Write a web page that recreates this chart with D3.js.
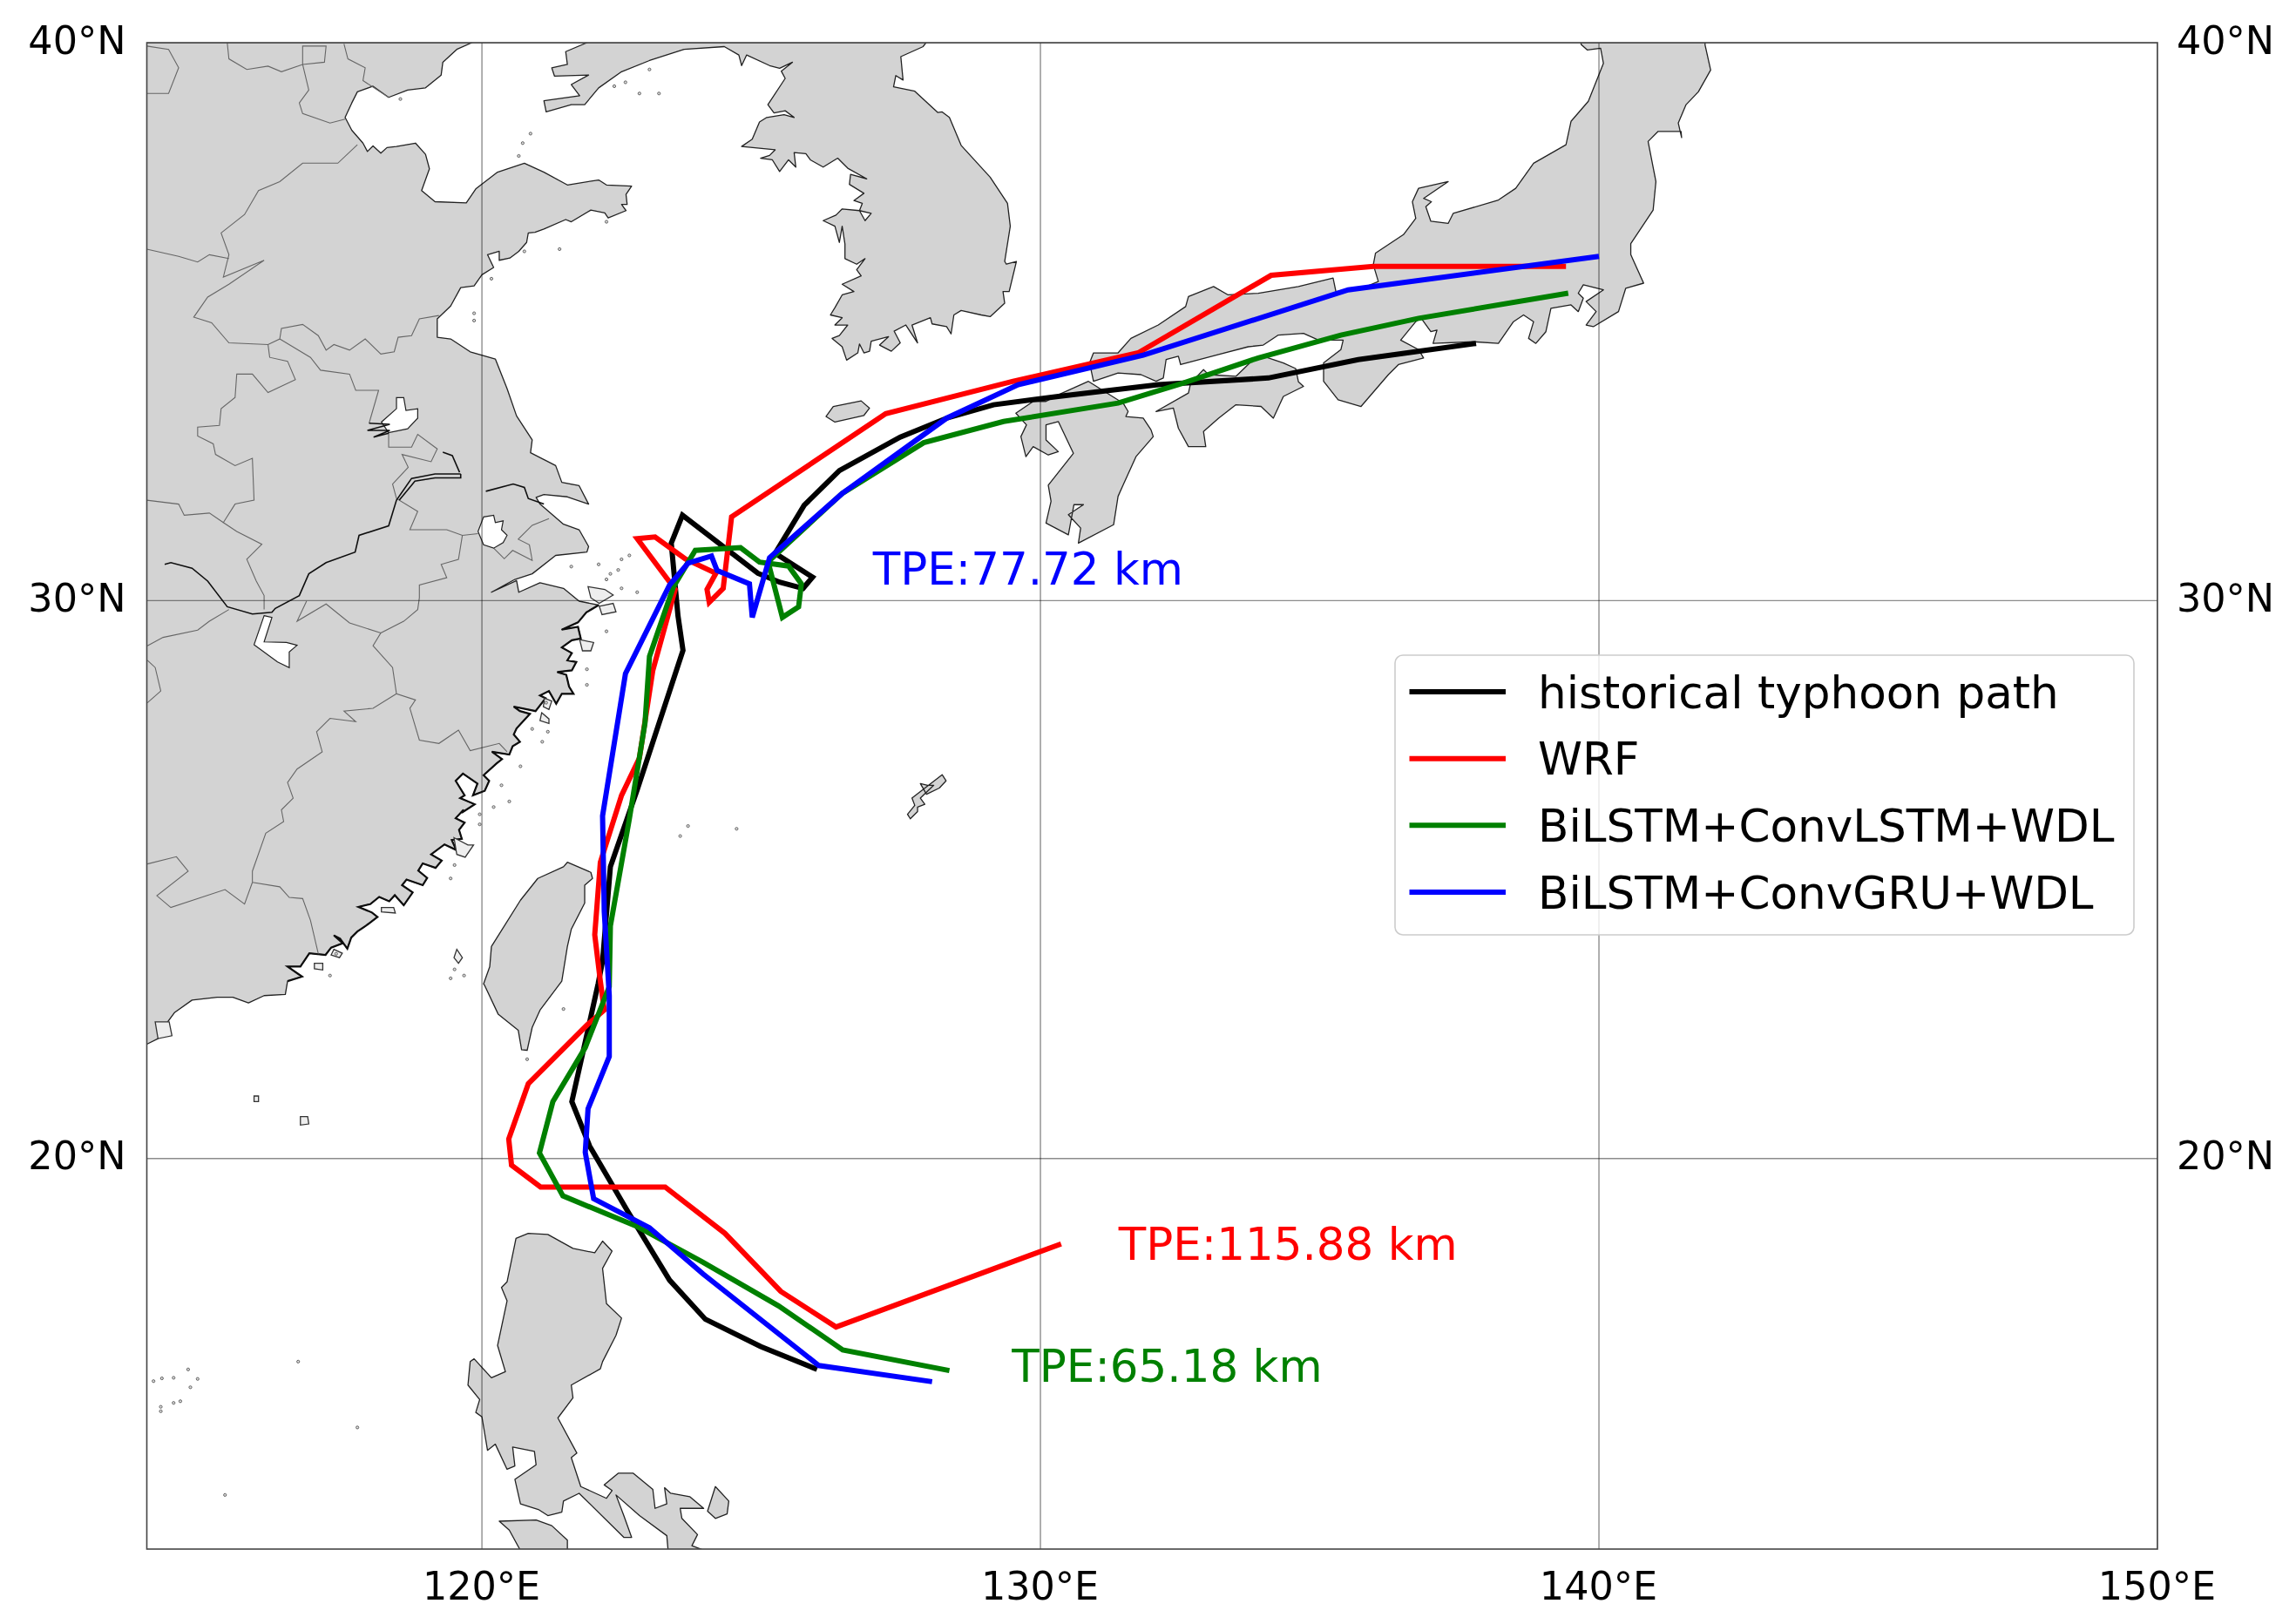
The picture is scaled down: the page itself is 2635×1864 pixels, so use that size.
<!DOCTYPE html>
<html>
<head>
<meta charset="utf-8">
<script src="https://cdn.jsdelivr.net/npm/d3@7"></script>
<style>
  html, body { margin: 0; padding: 0; background: #fff; }
  text { font-family: "DejaVu Sans", sans-serif; }
</style>
</head>
<body>
<svg id="chart"></svg>
<script>
// map window and ticks
const lonExtent = [114, 150];
const latExtent = [13, 40];
const lonTicks = [120, 130, 140, 150];
const latTicks = [20, 30, 40];

// typhoon tracks, [lon, lat]
const historicalPath = [[126.0,16.22],[124.99,16.63],[124.0,17.12],[123.36,17.82],[122.6,19.07],[121.93,20.22],[121.61,21.02],[121.85,22.09],[122.08,23.13],[122.16,23.54],[122.3,25.23],[122.78,26.61],[123.6,29.11],[123.51,29.73],[123.39,31.03],[123.59,31.53],[124.94,30.49],[125.33,30.33],[125.75,30.22],[125.92,30.42],[125.25,30.85],[125.77,31.71],[126.4,32.33],[127.49,32.93],[128.32,33.27],[129.16,33.51],[130.32,33.66],[132.11,33.87],[134.08,33.99],[135.69,34.32],[137.8,34.61]];
const wrfPath = [[130.37,18.47],[126.34,16.98],[125.35,17.62],[124.35,18.66],[123.28,19.49],[121.05,19.49],[120.53,19.88],[120.48,20.35],[120.83,21.34],[121.89,22.4],[122.19,22.66],[122.12,23.18],[122.02,24.01],[122.12,25.31],[122.5,26.51],[122.82,27.18],[123.06,28.75],[123.46,30.2],[122.78,31.11],[123.1,31.14],[123.64,30.75],[124.19,30.49],[124.03,30.2],[124.07,29.97],[124.32,30.22],[124.47,31.5],[127.23,33.35],[129.51,33.93],[131.75,34.44],[134.13,35.83],[135.96,35.99],[139.41,35.99]];
const convLstmPath = [[128.37,16.2],[126.46,16.57],[125.31,17.36],[123.96,18.14],[122.76,18.79],[121.45,19.33],[121.03,20.1],[121.27,21.02],[121.85,21.99],[122.28,23.08],[122.3,24.17],[122.64,26.09],[122.92,27.81],[123.0,29.0],[123.43,30.25],[123.82,30.9],[124.63,30.95],[124.97,30.69],[125.49,30.62],[125.72,30.3],[125.67,29.89],[125.38,29.7],[125.15,30.59],[125.15,30.72],[126.45,31.92],[127.91,32.83],[129.34,33.21],[131.39,33.54],[132.56,33.9],[133.9,34.35],[135.38,34.76],[136.77,35.06],[139.45,35.51]];
const convGruPath = [[128.06,16.0],[126.03,16.29],[123.96,17.93],[123.0,18.76],[122.0,19.28],[121.85,20.11],[121.9,20.89],[122.28,21.83],[122.28,22.92],[122.19,24.43],[122.16,26.14],[122.57,28.69],[123.36,30.28],[123.69,30.67],[124.11,30.8],[124.21,30.54],[124.79,30.3],[124.84,29.7],[125.15,30.77],[126.45,31.92],[128.32,33.27],[129.6,33.87],[131.84,34.4],[135.51,35.57],[140.0,36.17]];

const seriesNames = ["historical typhoon path", "WRF", "BiLSTM+ConvLSTM+WDL", "BiLSTM+ConvGRU+WDL"];
const seriesColors = ["#000000", "#ff0000", "#008000", "#0000ff"];
const seriesPaths = [historicalPath, wrfPath, convLstmPath, convGruPath];

// TPE notes, anchored in map coordinates
const tpeLabels = ["TPE:77.72 km", "TPE:115.88 km", "TPE:65.18 km"];
const tpeColors = ["#0000ff", "#ff0000", "#008000"];
const tpeAnchors = [[127.0,30.58],[131.4,18.47],[129.49,16.28]];

// coastlines, traced by hand, [lon, lat]
const chinaNorthCoast = [[119.82,40.0],[119.55,39.88],[119.3,39.65],[119.27,39.42],[118.99,39.19],[118.67,39.15],[118.33,39.02],[118.05,39.22],[117.77,39.12],[117.67,38.92],[117.55,38.66],[117.67,38.43],[117.87,38.2],[117.95,38.05],[118.05,38.15],[118.19,38.02],[118.3,38.12],[118.47,38.14],[118.81,38.2],[118.99,38.0],[119.06,37.74],[118.92,37.35],[119.16,37.15],[119.72,37.13],[119.89,37.38],[120.28,37.68],[120.76,37.84],[121.11,37.68],[121.53,37.45],[122.09,37.54],[122.23,37.45],[122.68,37.43],[122.58,37.28],[122.6,37.1],[122.5,37.1],[122.58,36.99],[122.26,36.86],[122.2,36.95],[121.95,37.0],[121.6,36.79],[121.5,36.83],[121.11,36.66],[120.95,36.6],[120.83,36.59],[120.8,36.42],[120.66,36.26],[120.5,36.14],[120.31,36.1],[120.31,36.26],[120.1,36.2],[120.21,35.97],[120.0,35.84],[119.86,35.64],[119.62,35.61],[119.44,35.28],[119.2,35.05],[119.2,34.72],[119.44,34.69],[119.79,34.46],[120.24,34.33],[120.45,33.8],[120.62,33.31],[120.9,32.88],[120.87,32.65],[121.32,32.42],[121.43,32.12],[121.74,32.06],[121.91,31.73],[121.53,31.86],[121.11,31.9],[120.97,31.85],[121.04,31.73],[121.46,31.37],[121.74,31.27],[121.91,30.97],[121.88,30.87],[121.32,30.81],[120.9,30.48],[120.59,30.38],[120.17,30.15],[120.62,30.36],[120.66,30.15],[121.04,30.32],[121.46,30.22],[121.74,29.99]];
const chinaEastCoast = [[122.09,29.92],[121.87,29.79],[121.72,29.61],[121.43,29.48],[121.72,29.53],[121.77,29.32],[121.61,29.29],[121.43,29.16],[121.61,29.06],[121.53,28.93],[121.69,28.9],[121.61,28.75],[121.35,28.72],[121.51,28.67],[121.56,28.46],[121.64,28.33],[121.43,28.33],[121.33,28.15],[121.2,28.38],[121.04,28.3],[121.14,28.25],[120.96,28.02],[120.57,28.1],[120.68,28.02],[120.86,27.97],[120.62,27.71],[120.57,27.6],[120.68,27.47],[120.55,27.39],[120.49,27.24],[120.18,27.29],[120.36,27.16],[120.26,27.08],[120.03,26.87],[120.13,26.77],[120.05,26.59],[119.84,26.51],[119.92,26.72],[119.66,26.9],[119.53,26.77],[119.69,26.51],[119.61,26.46],[119.87,26.35],[119.64,26.2],[119.67,26.25],[119.53,26.1],[119.69,26.02],[119.59,25.89],[119.64,25.73],[119.46,25.71],[119.54,25.53],[119.33,25.63],[119.09,25.45],[119.28,25.34],[119.17,25.21],[118.94,25.29],[118.86,25.16],[119.02,25.03],[118.94,24.9],[118.65,25.0],[118.57,24.9],[118.76,24.77],[118.6,24.54],[118.44,24.72],[118.34,24.61],[118.16,24.69],[118.0,24.56],[117.79,24.51],[118.03,24.41],[118.13,24.33],[117.92,24.17],[117.77,24.07],[117.66,23.96],[117.59,23.76],[117.46,23.94],[117.35,24.0],[117.51,23.86],[117.3,23.78],[117.2,23.65],[116.91,23.68],[116.75,23.44],[116.52,23.44],[116.78,23.26],[116.52,23.18]];
const chinaSouthCoast = [[116.48,22.94],[116.1,22.92],[115.82,22.79],[115.54,22.89],[115.26,22.89],[114.81,22.84],[114.5,22.62],[114.3,22.35],[114.2,22.15],[114.0,22.05],[113,22.05],[113,41],[119.82,41]];
const koreaCoast = [[121.88,40.0],[121.5,39.84],[121.53,39.61],[121.25,39.55],[121.3,39.4],[121.91,39.42],[121.6,39.25],[121.75,39.05],[121.11,38.96],[121.15,38.76],[121.6,38.89],[121.84,38.89],[122.09,39.19],[122.5,39.48],[123.0,39.68],[123.62,39.88],[124.34,39.93],[124.6,39.78],[124.65,39.59],[124.74,39.78],[125.15,39.59],[125.33,39.54],[125.56,39.65],[125.36,39.49],[125.43,39.36],[125.12,38.89],[125.23,38.74],[125.43,38.78],[125.59,38.66],[125.41,38.71],[125.1,38.66],[124.97,38.58],[124.84,38.27],[124.65,38.14],[125.25,38.08],[125.15,37.98],[124.99,37.93],[125.2,37.9],[125.33,37.69],[125.49,37.9],[125.62,37.77],[125.59,38.03],[125.8,38.01],[125.88,37.9],[126.11,37.77],[126.37,37.93],[126.55,37.75],[126.89,37.56],[126.6,37.64],[126.58,37.46],[126.84,37.3],[126.66,37.17],[126.81,37.12],[126.76,36.99],[126.97,36.94],[126.86,36.81],[126.76,36.99],[126.45,37.02],[126.34,36.91],[126.11,36.81],[126.32,36.71],[126.4,36.42],[126.45,36.71],[126.5,36.39],[126.5,36.13],[126.71,36.03],[126.86,36.13],[126.71,35.93],[126.79,35.82],[126.45,35.67],[126.66,35.54],[126.45,35.48],[126.32,35.25],[126.24,35.12],[126.45,35.07],[126.32,34.94],[126.55,34.94],[126.4,34.75],[126.27,34.7],[126.45,34.55],[126.53,34.31],[126.73,34.44],[126.76,34.6],[126.84,34.44],[126.94,34.47],[126.97,34.65],[127.28,34.73],[127.12,34.58],[127.33,34.47],[127.49,34.62],[127.38,34.83],[127.59,34.94],[127.8,34.62],[127.7,34.94],[128.03,35.07],[128.06,34.96],[128.32,34.91],[128.4,34.78],[128.45,35.12],[128.58,35.2],[128.94,35.12],[129.1,35.09],[129.36,35.33],[129.33,35.54],[129.44,35.54],[129.57,36.08],[129.39,36.03],[129.36,36.08],[129.46,36.71],[129.41,37.12],[129.1,37.59],[128.58,38.16],[128.37,38.66],[128.24,38.76],[128.16,38.75],[127.75,39.13],[127.37,39.21],[127.41,39.41],[127.54,39.33],[127.5,39.75],[127.9,39.93],[127.95,40.0],[127.95,41],[121.88,41]];
const jejuCoast = [[126.16,33.3],[126.29,33.48],[126.79,33.58],[126.94,33.45],[126.84,33.32],[126.32,33.2]];
const honshuCoast = [[139.68,39.97],[139.79,39.87],[140.03,39.9],[140.08,39.63],[139.81,38.95],[139.5,38.59],[139.41,38.17],[138.83,37.84],[138.51,37.39],[138.2,37.18],[137.39,36.94],[137.3,36.76],[136.99,36.8],[136.9,37.06],[137.0,37.15],[136.86,37.21],[137.3,37.51],[136.77,37.39],[136.66,37.15],[136.72,36.85],[136.5,36.56],[136.0,36.23],[135.96,36.02],[136.05,35.72],[135.69,35.57],[135.29,35.54],[135.24,35.78],[134.62,35.63],[133.9,35.51],[133.36,35.48],[133.1,35.63],[132.65,35.45],[132.6,35.27],[132.11,34.94],[131.62,34.7],[131.39,34.44],[130.95,34.44],[130.88,34.26],[130.95,33.93],[131.39,34.08],[131.8,34.05],[132.07,33.93],[132.2,33.99],[132.25,34.32],[132.47,34.38],[132.51,34.23],[133.19,34.41],[133.72,34.55],[133.99,34.58],[134.26,34.76],[134.71,34.79],[134.98,34.67],[135.42,34.67],[135.38,34.5],[135.07,34.26],[135.07,33.93],[135.33,33.6],[135.74,33.48],[136.23,34.05],[136.41,34.23],[136.86,34.35],[136.77,34.5],[136.45,34.67],[136.72,35.0],[136.81,35.07],[136.99,34.82],[137.1,34.85],[137.03,34.61],[137.75,34.64],[138.2,34.61],[138.47,35.0],[138.65,35.12],[138.83,35.0],[138.74,34.7],[138.87,34.61],[139.05,34.82],[139.14,35.24],[139.5,35.3],[139.63,35.18],[139.72,35.42],[139.63,35.51],[139.72,35.66],[140.08,35.57],[139.77,35.36],[139.95,35.18],[139.77,34.94],[139.9,34.91],[140.35,35.18],[140.48,35.6],[140.8,35.69],[140.57,36.2],[140.57,36.4],[140.97,37.0],[141.02,37.51],[140.88,38.23],[141.06,38.41],[141.47,38.41],[141.48,38.3],[141.42,38.56],[141.56,38.89],[141.78,39.12],[142.0,39.51],[141.9,39.96],[141.9,41],[139.68,41]];
const kyushuCoast = [[129.56,33.36],[129.87,33.57],[130.1,33.57],[130.32,33.69],[130.86,33.93],[131.48,33.54],[131.57,33.39],[131.53,33.3],[131.84,33.27],[131.98,33.06],[132.02,32.94],[131.71,32.58],[131.48,32.07],[131.39,31.87],[131.31,31.36],[130.68,31.03],[130.72,31.3],[130.5,31.54],[130.77,31.72],[130.6,31.72],[130.5,31.18],[130.1,31.39],[130.19,31.78],[130.14,32.07],[130.59,32.64],[130.32,33.21],[130.1,33.15],[130.1,32.88],[130.32,32.67],[130.14,32.61],[129.87,32.76],[129.74,32.58],[129.65,32.94],[129.75,33.15]];
const shikokuCoast = [[132.07,33.39],[132.65,33.72],[132.69,33.9],[132.92,34.14],[133.01,34.05],[133.5,34.02],[133.81,34.32],[133.99,34.38],[134.35,34.26],[134.57,34.16],[134.62,33.92],[134.71,33.84],[134.35,33.66],[134.17,33.27],[133.95,33.48],[133.5,33.51],[133.19,33.27],[132.92,33.03],[132.96,32.76],[132.65,32.76],[132.47,33.09],[132.38,33.45]];
const okinawaCoast = [[128.24,26.88],[128.31,26.77],[128.19,26.64],[127.96,26.53],[127.85,26.72],[127.98,26.69],[128.09,26.69],[127.85,26.46],[127.93,26.35],[127.8,26.3],[127.8,26.22],[127.67,26.09],[127.62,26.17],[127.75,26.33],[127.7,26.46]];
const taiwanCoast = [[121.53,25.31],[121.95,25.13],[121.98,25.02],[121.84,24.9],[121.84,24.58],[121.6,24.11],[121.53,23.8],[121.43,23.18],[121.04,22.66],[120.9,22.35],[120.81,21.94],[120.71,21.95],[120.65,22.3],[120.29,22.59],[120.05,23.1],[120.03,23.13],[120.14,23.44],[120.17,23.8],[120.69,24.63],[121.0,25.02],[121.46,25.23]];
const luzonCoast = [[120.61,18.57],[120.83,18.66],[121.18,18.64],[121.63,18.39],[122.02,18.31],[122.16,18.52],[122.33,18.34],[122.16,18.03],[122.23,17.4],[122.5,17.14],[122.4,16.83],[122.16,16.36],[122.12,16.23],[121.6,15.94],[121.63,15.71],[121.36,15.35],[121.7,14.72],[121.6,14.64],[121.77,14.12],[122.23,13.91],[122.33,14.05],[122.19,14.15],[122.44,14.36],[122.71,14.36],[123.06,14.07],[123.1,13.73],[123.31,13.81],[123.27,14.1],[123.38,14.0],[123.72,13.94],[123.97,13.73],[123.55,13.73],[123.58,13.55],[123.86,13.26],[123.76,13.06],[124.18,12.9],[123.34,12.9],[123.31,13.24],[122.82,13.6],[122.4,13.97],[122.54,13.6],[122.68,13.21],[122.54,13.21],[121.74,14.0],[121.46,13.86],[121.43,13.66],[121.18,13.6],[121.01,13.71],[120.69,13.81],[120.59,14.25],[120.97,14.51],[120.94,14.75],[120.55,14.83],[120.59,14.49],[120.45,14.43],[120.24,14.88],[120.1,14.77],[120.0,15.37],[119.89,15.45],[119.96,15.68],[119.75,15.94],[119.79,16.36],[119.86,16.41],[120.17,16.07],[120.42,16.18],[120.28,16.65],[120.45,17.45],[120.35,17.69],[120.45,17.79]];
const catanduanesCoast = [[124.18,14.12],[124.42,13.86],[124.39,13.63],[124.18,13.55],[124.04,13.68]];
const mindoroCoast = [[120.31,13.5],[120.97,13.52],[121.25,13.42],[121.53,13.16],[121.53,12.9],[120.73,12.9],[120.49,13.34]];

// small outlined island groups along the coast
const coastIslands = [
  [[121.9,30.25],[122.2,30.2],[122.35,30.1],[122.1,29.95],[121.95,30.05]],
  [[122.1,29.9],[122.35,29.95],[122.4,29.8],[122.15,29.75]],
  [[121.75,29.3],[122.0,29.25],[121.95,29.1],[121.8,29.1]],
  [[121.07,27.99],[121.2,27.88],[121.2,27.8],[121.04,27.85]],
  [[121.12,28.25],[121.25,28.2],[121.2,28.05],[121.1,28.1]],
  [[119.5,25.75],[119.75,25.62],[119.85,25.62],[119.7,25.4],[119.55,25.45]],
  [[118.2,24.5],[118.42,24.5],[118.45,24.4],[118.2,24.42]],
  [[117.35,23.75],[117.5,23.68],[117.45,23.6],[117.3,23.65]],
  [[117.0,23.5],[117.15,23.5],[117.15,23.38],[117.0,23.4]],
  [[119.55,23.75],[119.65,23.6],[119.58,23.5],[119.5,23.6]],
  [[116.75,20.75],[116.88,20.75],[116.9,20.62],[116.75,20.6]],
  [[115.92,21.12],[116.0,21.12],[116.0,21.02],[115.92,21.02]],
  [[114.15,22.45],[114.4,22.45],[114.45,22.2],[114.2,22.15]]
];

// lakes
const poyangLake = [[116.1,29.73],[116.24,29.7],[116.1,29.26],[116.5,29.25],[116.69,29.2],[116.55,29.08],[116.55,28.8],[116.34,28.9],[115.92,29.21]];
const hongzeLake = [[118.47,33.64],[118.6,33.64],[118.64,33.41],[118.85,33.44],[118.85,33.27],[118.67,33.08],[118.33,33.01],[118.2,33.2],[118.47,33.44]];
const taihuLake = [[119.93,31.24],[120.03,31.5],[120.21,31.53],[120.24,31.4],[120.38,31.43],[120.35,31.27],[120.45,31.17],[120.38,31.04],[120.21,30.94],[120.03,31.0]];

// big rivers, drawn with the coast colour
const yangtzeRiver = [[114.32,30.65],[114.43,30.68],[114.81,30.58],[115.09,30.35],[115.44,29.89],[115.89,29.76],[116.24,29.79],[116.3,29.86],[116.73,30.09],[116.9,30.48],[117.21,30.68],[117.73,30.87],[117.8,31.17],[118.33,31.34],[118.47,31.8],[118.74,32.19],[119.16,32.27],[119.62,32.27]];
const yangtzeSplit = [[118.52,31.8],[118.8,32.14],[119.16,32.2],[119.62,32.2],[119.62,32.27]];
const yangtzeMouth = [[120.07,31.96],[120.56,32.09],[120.76,32.03],[120.83,31.83],[121.11,31.73]];
const grandCanal = [[119.3,32.66],[119.47,32.6],[119.6,32.3]];
const huaiRiver = [[117.98,33.18],[118.35,33.16],[117.95,33.05],[118.35,33.05],[118.06,32.93],[118.33,33.0]];

// province borders
const provinceBorders = [
  [[114,39.94],[114.39,39.88],[114.57,39.55],[114.39,39.09],[114,39.09]],
  [[115.44,40],[115.47,39.71],[115.79,39.52],[116.17,39.58],[116.41,39.48],[116.79,39.61],[117.18,39.65],[117.21,39.94],[116.79,39.94],[116.79,39.61],[116.9,39.15],[116.73,38.92],[116.79,38.73],[117.28,38.56],[117.55,38.63]],
  [[117.53,39.98],[117.6,39.71],[117.91,39.55],[117.87,39.32],[118.33,39.02]],
  [[117.77,38.17],[117.42,37.84],[116.79,37.84],[116.38,37.51],[116,37.35],[115.75,36.92],[115.33,36.59],[115.47,36.2],[115.37,35.8],[116.1,36.1],[115.47,35.67],[115.09,35.44],[114.84,35.08],[115.16,34.98],[115.47,34.62],[116.17,34.59],[116.38,34.69],[116.41,34.88],[116.79,34.95],[117.07,34.75],[117.21,34.49],[117.35,34.59],[117.63,34.49],[117.91,34.69],[118.19,34.42],[118.43,34.46],[118.5,34.72],[118.74,34.75],[118.88,35.05],[119.23,35.11]],
  [[114,36.3],[114.57,36.17],[114.91,36.07],[115.12,36.2],[115.47,36.13]],
  [[116.38,34.69],[116.93,34.36],[117.11,34.13],[117.63,34.06],[117.74,33.77],[118.15,33.77],[117.98,33.18]],
  [[116.17,34.59],[116.2,34.36],[116.52,34.29],[116.66,33.96],[116.17,33.73],[115.89,34.06],[115.61,34.06],[115.58,33.64],[115.33,33.44],[115.3,33.14],[114.91,33.11],[114.91,32.95],[115.19,32.81],[115.23,32.62],[115.58,32.42],[115.89,32.55],[115.92,31.8],[115.58,31.73],[115.37,31.4],[115.61,31.24],[116.06,31.01],[115.79,30.74],[115.96,30.35],[116.1,30.09],[116.1,29.84]],
  [[114,31.8],[114.57,31.73],[114.67,31.53],[115.12,31.57],[115.37,31.4]],
  [[118.33,33.01],[118.33,32.75],[118.74,32.75],[118.85,32.98],[119.2,32.72],[119.09,32.49],[118.57,32.62],[118.68,32.39],[118.4,32.09],[118.47,31.83],[118.85,31.6],[118.71,31.27],[119.37,31.27],[119.65,31.17],[119.93,31.2]],
  [[119.65,31.17],[119.58,30.74],[119.27,30.65],[119.37,30.41],[118.88,30.28],[118.88,30.05],[118.85,29.84],[118.6,29.63],[118.19,29.42],[118.05,29.19],[118.4,28.8],[118.47,28.33],[118.81,28.22],[118.71,28.07],[118.88,27.5],[119.23,27.44],[119.58,27.68],[119.79,27.31],[120.31,27.44],[120.45,27.29]],
  [[120.21,30.94],[120.4,30.75],[120.55,30.9],[120.9,30.72],[120.85,31.0],[120.65,31.1],[120.9,31.35],[121.2,31.47]],
  [[116.86,29.99],[116.69,29.63],[117.21,29.94],[117.63,29.6],[118.19,29.42]],
  [[118.47,28.33],[118.05,28.07],[117.53,28.02],[117.74,27.83],[117.28,27.89],[117.04,27.65],[117.14,27.29],[116.69,26.98],[116.52,26.74],[116.62,26.46],[116.41,26.25],[116.45,26.04],[116.13,25.83],[115.89,25.15],[115.89,24.95]],
  [[115.89,24.95],[116.38,24.87],[116.55,24.68],[116.79,24.66],[116.93,24.27],[117.07,23.67]],
  [[115.89,24.95],[115.75,24.56],[115.4,24.82],[114.43,24.5],[114.18,24.71],[114.74,25.15],[114.53,25.41],[114.01,25.28]],
  [[114.01,28.93],[114.15,28.8],[114.25,28.38],[114.01,28.17]],
  [[115.47,29.84],[115.12,29.63],[114.91,29.47],[114.29,29.34],[114.01,29.19]]
];

// tiny islets, one dot each
const islets = [[123.0,39.52],[122.57,39.29],[122.37,39.22],[122.82,39.09],[123.17,39.09],[120.87,38.37],[120.73,38.2],[120.66,37.97],[118.54,38.99],[122.23,36.79],[120.76,36.26],[121.39,36.3],[120.17,35.77],[119.86,35.15],[119.86,35.02],[122.5,30.74],[122.64,30.81],[122.3,30.48],[122.09,30.65],[121.6,30.61],[122.23,30.38],[122.5,30.22],[122.78,30.15],[122.44,30.55],[122.23,29.45],[121.88,28.77],[121.88,28.49],[121.15,28.17],[121.08,27.47],[120.9,27.7],[121.18,27.65],[120.69,27.03],[120.35,26.69],[120.49,26.4],[120.21,26.3],[119.96,26.17],[119.96,25.99],[119.51,25.26],[119.44,25.02],[117.39,23.67],[117.28,23.28],[119.51,23.39],[119.44,23.23],[119.68,23.28],[121.46,22.68],[123.55,25.78],[123.69,25.96],[124.56,25.91],[114.74,16.22],[114.91,16.05],[114.78,15.9],[114.48,16.07],[114.27,16.06],[114.12,16.01],[114.6,15.65],[114.48,15.62],[114.25,15.55],[114.25,15.47],[116.71,16.36],[117.77,15.18],[115.4,13.97],[120.81,21.78]];

const chinaCoast = [...chinaNorthCoast, ...chinaEastCoast, ...chinaSouthCoast];
const landShapes = [chinaCoast, koreaCoast, jejuCoast, honshuCoast, kyushuCoast, shikokuCoast, okinawaCoast, taiwanCoast, luzonCoast, catanduanesCoast, mindoroCoast];
const lakeShapes = [poyangLake, hongzeLake, taihuLake];
const riverLines = [yangtzeRiver, yangtzeSplit, yangtzeMouth, grandCanal, huaiRiver];

const width = 2635, height = 1864;
const margin = { top: 49, right: 159, bottom: 86, left: 168.5 };

const svg = d3.select("#chart").attr("width", width).attr("height", height)
    .attr("viewBox", [0, 0, width, height]).style("display", "block");

// the reference is a slightly soft upscaled raster
const defs = svg.append("defs");
defs.append("filter").attr("id", "soft").append("feGaussianBlur").attr("stdDeviation", 0.7);
defs.append("clipPath").attr("id", "plot").append("rect")
    .attr("x", margin.left).attr("y", margin.top)
    .attr("width", width - margin.left - margin.right)
    .attr("height", height - margin.top - margin.bottom);

const root = svg.append("g").attr("filter", "url(#soft)");

const x = d3.scaleLinear().domain(lonExtent).range([margin.left, width - margin.right]);
const y = d3.scaleLinear().domain(latExtent).range([height - margin.bottom, margin.top]);
const line = d3.line().x(d => x(d[0])).y(d => y(d[1]));
const ring = d => line(d) + "Z";

const map = root.append("g").attr("clip-path", "url(#plot)");

// land
map.append("g").selectAll("path").data(landShapes).join("path")
    .attr("d", ring).attr("fill", "#d3d3d3").attr("stroke", "#222").attr("stroke-width", 1.3)
    .attr("stroke-linejoin", "round");

// the crinkled east coast reads heavier in the reference
map.append("path").datum(chinaEastCoast).attr("d", line)
    .attr("fill", "none").attr("stroke", "#111").attr("stroke-width", 2.2);
map.append("g").selectAll("path").data(coastIslands).join("path")
    .attr("d", ring).attr("fill", "#eee").attr("stroke", "#333").attr("stroke-width", 1.3);

// province borders
map.append("g").selectAll("path").data(provinceBorders).join("path")
    .attr("d", line).attr("fill", "none").attr("stroke", "#666").attr("stroke-width", 1.1);

// lakes and rivers
map.append("g").selectAll("path").data(lakeShapes).join("path")
    .attr("d", ring).attr("fill", "#fff").attr("stroke", "#222").attr("stroke-width", 1.2);
map.append("g").selectAll("path").data(riverLines).join("path")
    .attr("d", line).attr("fill", "none").attr("stroke", "#111").attr("stroke-width", 1.6);

// islets
map.append("g").selectAll("circle").data(islets).join("circle")
    .attr("cx", d => x(d[0])).attr("cy", d => y(d[1])).attr("r", 1.6)
    .attr("fill", "#ddd").attr("stroke", "#555").attr("stroke-width", 0.9);

// grid
map.append("g").selectAll("line").data(lonTicks).join("line")
    .attr("x1", d => x(d)).attr("x2", d => x(d))
    .attr("y1", margin.top).attr("y2", height - margin.bottom)
    .attr("stroke", "#000").attr("stroke-opacity", 0.45).attr("stroke-width", 1.4);
map.append("g").selectAll("line").data(latTicks).join("line")
    .attr("x1", margin.left).attr("x2", width - margin.right)
    .attr("y1", d => y(d)).attr("y2", d => y(d))
    .attr("stroke", "#000").attr("stroke-opacity", 0.45).attr("stroke-width", 1.4);

// tracks
map.append("g").selectAll("path").data(seriesPaths).join("path")
    .attr("d", line).attr("fill", "none")
    .attr("stroke", (d, i) => seriesColors[i]).attr("stroke-width", 6)
    .attr("stroke-linejoin", "miter").attr("stroke-miterlimit", 4);

// frame
root.append("rect").attr("x", margin.left).attr("y", margin.top)
    .attr("width", width - margin.left - margin.right)
    .attr("height", height - margin.top - margin.bottom)
    .attr("fill", "none").attr("stroke", "#444").attr("stroke-width", 1.6);

// axes, labels only as in the source figure
const lonAxis = d3.axisBottom(x).tickValues(lonTicks).tickSize(0).tickPadding(26).tickFormat(d => d + "°E");
const latLeft = d3.axisLeft(y).tickValues(latTicks).tickSize(0).tickPadding(24).tickFormat(d => d + "°N");
const latRight = d3.axisRight(y).tickValues(latTicks).tickSize(0).tickPadding(22).tickFormat(d => d + "°N");

root.append("g").attr("transform", `translate(-1,${height - margin.bottom})`).call(lonAxis);
root.append("g").attr("transform", `translate(${margin.left},-2)`).call(latLeft);
root.append("g").attr("transform", `translate(${width - margin.right},-2)`).call(latRight);
root.selectAll(".domain").remove();
root.selectAll(".tick text").attr("font-size", 44.5).attr("font-family", "DejaVu Sans").attr("fill", "#000");

// TPE annotations
root.append("g").selectAll("text").data(tpeLabels).join("text")
    .attr("x", (d, i) => x(tpeAnchors[i][0])).attr("y", (d, i) => y(tpeAnchors[i][1]))
    .attr("dy", "0.36em")
    .attr("font-size", 51.5).attr("fill", (d, i) => tpeColors[i]).text(d => d);

// legend
const legend = root.append("g");
legend.append("rect").attr("x", 1601).attr("y", 752).attr("width", 848).attr("height", 321).attr("rx", 9)
    .attr("fill", "#fff").attr("fill-opacity", 0.8).attr("stroke", "#ccc").attr("stroke-width", 1.6);
const legendY = d3.scalePoint().domain(seriesNames).range([794, 1024]);
const legendRow = legend.selectAll("g").data(seriesNames).join("g")
    .attr("transform", d => `translate(0,${legendY(d)})`);
legendRow.append("line").attr("x1", 1617.5).attr("x2", 1728)
    .attr("stroke", (d, i) => seriesColors[i]).attr("stroke-width", 6);
legendRow.append("text").attr("x", 1765).attr("dy", "0.36em")
    .attr("font-size", 51.6).attr("fill", "#000").text(d => d);
</script>
</body>
</html>
